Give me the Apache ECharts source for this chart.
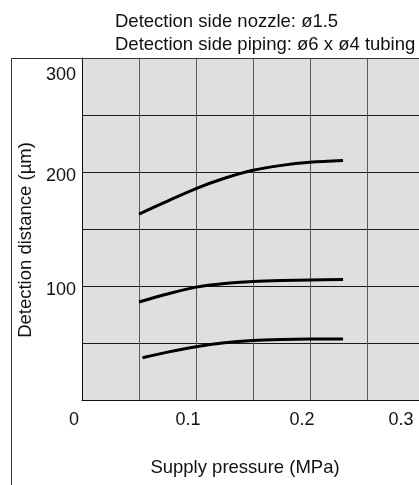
<!DOCTYPE html>
<html>
<head>
<meta charset="utf-8">
<script src="https://cdn.jsdelivr.net/npm/echarts@6/dist/echarts.min.js"></script>
<style>
html,body{margin:0;padding:0;background:#fff;}
#c{width:419px;height:485px;}
</style>
</head>
<body>
<div id="c"></div>
<script>
const titleLines = ['Detection side nozzle: ø1.5', 'Detection side piping: ø6 x ø4 tubing'];
const xName = 'Supply pressure (MPa)';
const yName = 'Detection distance (µm)';
const xTickLabels = ['0', '0.1', '0.2', '0.3'];
const yTickLabels = ['100', '200', '300'];

const pressureA = [0.05, 0.075, 0.1, 0.125, 0.15, 0.175, 0.2, 0.229];
const distanceHigh = [163, 174.5, 185.5, 194.5, 201.5, 205.8, 208.5, 210];
const distanceMid = [86, 93, 99, 102.2, 103.9, 104.8, 105.3, 105.6];
const pressureB = [0.053, 0.075, 0.1, 0.125, 0.15, 0.175, 0.2, 0.229];
const distanceLow = [37, 42, 46.8, 50.2, 52.2, 53.1, 53.5, 53.6];

function pairs(xs, ys){ return xs.map((x,i)=>[x, ys[i]]); }

const FONT = 'Liberation Sans, Arial, sans-serif';
const chart = echarts.init(document.getElementById('c'), null, {renderer:'canvas'});
const lineStyle = {color:'#000', width:3};
chart.setOption({
  animation:false,
  backgroundColor:'#fff',
  title:{
    text: titleLines.join('\n'),
    left:115, top:10, padding:0,
    textStyle:{fontFamily:FONT, fontSize:18.5, fontWeight:'normal', color:'#111', lineHeight:23}
  },
  grid:{left:82, top:58, right:-5, bottom:85, show:true, backgroundColor:'#dfdfdf', borderWidth:0,
        containLabel:false, outerBoundsMode:'none'},
  xAxis:{
    type:'value', min:0, max:0.3, interval:0.05,
    name:xName, nameLocation:'middle', nameGap:58,
    nameTextStyle:{fontFamily:FONT, fontSize:18.5, color:'#111', padding:[0,16,0,0]},
    axisLine:{show:true, lineStyle:{color:'#111', width:1}},
    axisTick:{show:false},
    splitLine:{show:true, lineStyle:{color:'#5a5a5a', width:1}},
    axisLabel:{
      margin:11, fontFamily:FONT, fontSize:18, color:'#111',
      showMinLabel:true, showMaxLabel:true,
      formatter:function(v){
        const k = Math.round(v*100);
        if (k % 10 !== 0) return '';
        const s = xTickLabels[k/10] || '';
        return k === 30 ? '{e|' + s + '}' : '{n|' + s + '}';
      },
      rich:{
        n:{fontFamily:FONT, fontSize:18, color:'#111', padding:[0,16,0,0]},
        e:{fontFamily:FONT, fontSize:18, color:'#111', padding:[0,46,0,0]}
      }
    }
  },
  yAxis:{
    type:'value', min:0, max:300, interval:50,
    name:yName, nameLocation:'middle', nameGap:41, nameRotate:90,
    nameTextStyle:{fontFamily:FONT, fontSize:18.5, color:'#111', padding:[0,22,0,0]},
    axisLine:{show:true, lineStyle:{color:'#111', width:1}},
    axisTick:{show:false},
    splitLine:{show:true, lineStyle:{color:'#1a1a1a', width:1}},
    axisLabel:{
      margin:6, fontFamily:FONT, fontSize:18, color:'#111',
      showMinLabel:true, showMaxLabel:true,
      formatter:function(v){
        const k = Math.round(v);
        if (k === 0 || k % 100 !== 0) return '';
        const s = yTickLabels[k/100 - 1];
        return k === 300 ? '{t|' + s + '}' : '{n|' + s + '}';
      },
      rich:{
        t:{fontFamily:FONT, fontSize:18, color:'#111', padding:[34,0,0,0]},
        n:{fontFamily:FONT, fontSize:18, color:'#111', padding:[8,0,0,0]}
      }
    }
  },
  graphic:[{
    type:'polyline', silent:true, z:100,
    shape:{points:[[11.5,485],[11.5,58.5],[419,58.5]]},
    style:{stroke:'#333', lineWidth:1, fill:null}
  }],
  series:[
    {type:'line', data:pairs(pressureA, distanceHigh), smooth:0.3, showSymbol:false, lineStyle:lineStyle},
    {type:'line', data:pairs(pressureA, distanceMid), smooth:0.3, showSymbol:false, lineStyle:lineStyle},
    {type:'line', data:pairs(pressureB, distanceLow), smooth:0.3, showSymbol:false, lineStyle:lineStyle}
  ]
});
</script>
</body>
</html>
